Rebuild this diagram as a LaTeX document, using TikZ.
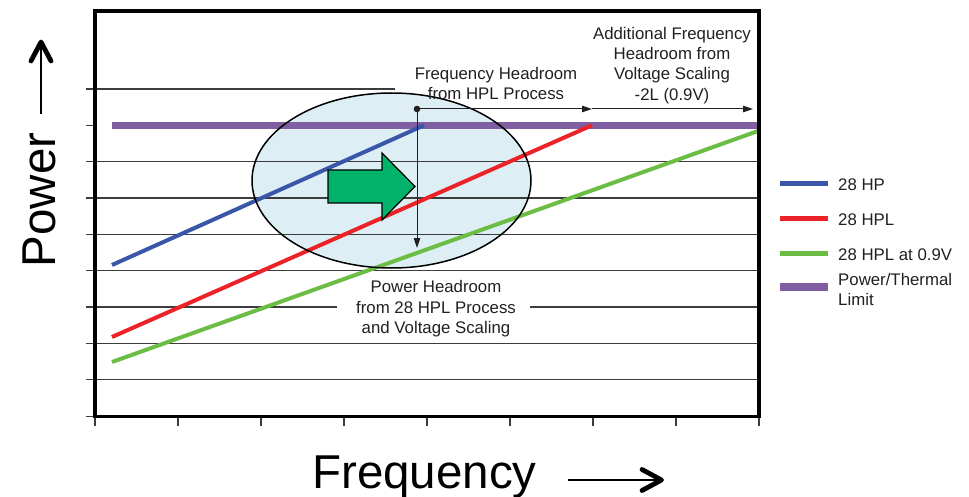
\documentclass[tikz,border=0pt]{standalone}
\usepackage{fontspec}
\setmainfont{Liberation Sans}
\usetikzlibrary{arrows.meta}

\definecolor{hpblue}{HTML}{3A56A8}
\definecolor{hplred}{HTML}{EC2229}
\definecolor{lvgreen}{HTML}{6CBD45}
\definecolor{limitpurple}{HTML}{7F5FA2}
\definecolor{zonefill}{HTML}{DDEFF4}
\definecolor{gainarrow}{HTML}{00B26A}
\definecolor{gridline}{HTML}{3C3C3C}
\definecolor{inkgray}{HTML}{231F20}

\begin{document}
\begin{tikzpicture}[x=1pt, y=-1pt,
  every node/.style={inner sep=0pt, text=inkgray},
  gridrule/.style={draw=gridline, line width=1.3pt},
  seriesline/.style={line width=4pt},
  legendkey/.style={line width=5pt},
  note/.style={align=center, font=\fontsize{16.8}{20.4}\selectfont},
  legendtext/.style={anchor=base west, font=\fontsize{16.8}{20.6}\selectfont},
  axislabel/.style={font=\fontsize{47.5}{56}\selectfont, text=black},
  pointer/.style={draw=inkgray, line width=1pt, -{Triangle[length=10pt,width=6.5pt]}},
  chevron/.style={line width=4.8pt, line cap=round, line join=round},
]
\useasboundingbox (0,0) rectangle (969,497);

% shaded operating zone (fill only; outline comes later)
\coordinate (zone) at (391.5,180.5);
\fill[zonefill] (zone) ellipse [x radius=139.5, y radius=87.5];

% horizontal grid rules with their left stubs
\foreach \yy in {161.7,198,234.3,270.7,343.3,379.7}
  \draw[gridrule] (86,\yy) -- (759,\yy);
\draw[gridrule] (86,89) -- (395,89);
\draw[gridrule] (86,125.3) -- (95,125.3);
\draw[gridrule] (86,307) -- (337,307);
\draw[gridrule] (530,307) -- (759,307);
\draw[gridrule] (86,416.5) -- (95,416.5);

% frequency ticks below the plot
\foreach \k in {0,...,8}
  \draw[gridrule] (95+83*\k,416.5) -- (95+83*\k,426);

% power/thermal limit and the three process curves
\draw[draw=limitpurple, line width=7pt] (112,125.3) -- (759,125.3);
\draw[seriesline, hpblue]  (112,265) -- (424,125.3);
\draw[seriesline, hplred]  (112,337) -- (592,125.3);
\draw[seriesline, lvgreen] (112,362) -- (758,131);

% zone outline
\draw[line width=1.5pt, black] (zone) ellipse [x radius=139.5, y radius=87.5];

% block arrow showing the shift
\filldraw[fill=gainarrow, draw=black, line width=1.2pt, line join=miter]
  (328,170) -- (382,170) -- (382,153) -- (415,186.5) -- (382,220)
  -- (382,203) -- (328,203) -- cycle;

% headroom pointers
\coordinate (hd) at (417,109);
\coordinate (pw) at (417,248);
\coordinate (f1) at (592,109);
\coordinate (f2) at (753,109);
\draw[pointer] (hd) -- (pw);
\draw[pointer] (hd) -- (f1);
\draw[pointer] (f1) -- (f2);
\fill[inkgray] (hd) circle (3.3);

% annotations
\node[note, anchor=north] (fhr) at (496,66.8) {Frequency Headroom\\from HPL Process};
\node[note, anchor=north] (afh) at (672,26.8) {Additional Frequency\\Headroom from\\Voltage Scaling\\-2L (0.9V)};
\node[note, anchor=north] (phr) at (436,280.3) {Power Headroom\\from 28 HPL Process\\and Voltage Scaling};

% plot frame
\draw[line width=3.3pt, black] (95,11) rectangle (759,416.5);

% legend
\draw[legendkey, hpblue]  (780,184) -- (828,184);
\node[legendtext] (lg1) at (838,190.5) {28 HP};
\draw[legendkey, hplred]  (780,219) -- (828,219);
\node[legendtext] (lg2) at (838,225.5) {28 HPL};
\draw[legendkey, lvgreen] (780,253) -- (828,253);
\node[legendtext] (lg3) at (838,260) {28 HPL at 0.9V};
\draw[draw=limitpurple, line width=7.5pt] (780,287) -- (828,287);
\node[legendtext, align=left] (lg4) at (838,305.8) {Power/Thermal\\Limit};

% axis titles with their arrows
\node[axislabel, rotate=90, anchor=base] (ylab) at (55,200) {Power};
\coordinate (ya0) at (41,114);
\coordinate (ya1) at (41,42);
\draw[line width=1.8pt, black] (ya0) -- (ya1);
\draw[chevron, black] (31,61) -- (ya1) -- (51,61);

\node[axislabel, anchor=base] (xlab) at (424.5,488) {Frequency};
\coordinate (xa0) at (568,480);
\coordinate (xa1) at (661.5,480);
\draw[line width=1.8pt, black] (xa0) -- (xa1);
\draw[chevron, black] (642,469.5) -- (xa1) -- (642,490.5);
\end{tikzpicture}
\end{document}
